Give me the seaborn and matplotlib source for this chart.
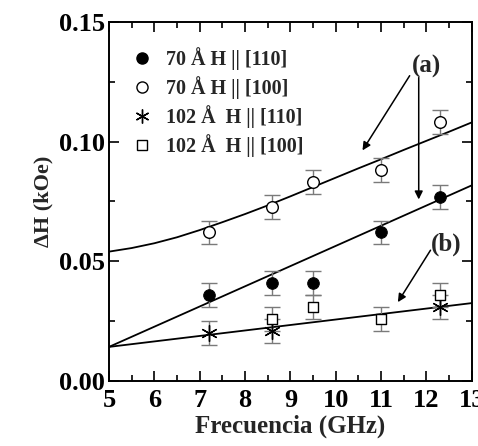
import matplotlib
matplotlib.use("Agg")
import matplotlib.pyplot as plt
import seaborn as sns
from matplotlib.lines import Line2D

# ---- data ----
freq = [7.2, 8.6, 9.5, 11.0, 12.3]
dh_70_110 = [0.036, 0.041, 0.041, 0.062, 0.077]
dh_70_100 = [0.062, 0.0725, 0.083, 0.088, 0.108]
freq_102_110 = [7.2, 8.6, 12.3]
dh_102_110 = [0.020, 0.021, 0.031]
freq_102_100 = [8.6, 9.5, 11.0, 12.3]
dh_102_100 = [0.026, 0.031, 0.026, 0.036]
err = 0.005

# fit curves
fit_a_upper_x = [5, 5.5, 6, 6.5, 7, 7.5, 8, 8.5, 9, 9.5, 10, 10.5, 11, 11.5, 12, 12.5, 13]
fit_a_upper_y = [0.0540, 0.0555, 0.0575, 0.0600, 0.0630, 0.0663, 0.0697, 0.0733, 0.0771,
                 0.0810, 0.0849, 0.0888, 0.0926, 0.0965, 0.1003, 0.1041, 0.1080]
fit_a_lower_x = [5, 13]
fit_a_lower_y = [0.0142, 0.0817]
fit_b_x = [5, 13]
fit_b_y = [0.0142, 0.0325]

labels = ["70 Å H || [110]", "70 Å H || [100]", "102 Å  H || [110]", "102 Å  H || [100]"]

sns.set_theme(style="ticks")
plt.rcParams['font.family'] = ['Liberation Serif', 'DejaVu Serif']
plt.rcParams['font.weight'] = 'bold'

fig = plt.figure(figsize=(4.78, 4.46), dpi=100)
ax = fig.add_axes([0.228, 0.146, 0.759, 0.805])

# fit lines
for xs, ys in [(fit_a_upper_x, fit_a_upper_y), (fit_a_lower_x, fit_a_lower_y), (fit_b_x, fit_b_y)]:
    sns.lineplot(x=xs, y=ys, ax=ax, color="black", lw=1.3, zorder=2)

asterisk = (6, 2, 0)
series = [
    (freq, dh_70_110, dict(marker='o', s=70, color='black', edgecolor='black')),
    (freq, dh_70_100, dict(marker='o', s=70, facecolor='white', edgecolor='black', linewidth=1.0)),
    (freq_102_110, dh_102_110, dict(marker=asterisk, s=130, color='black', linewidth=1.0)),
    (freq_102_100, dh_102_100, dict(marker='s', s=50, facecolor='white', edgecolor='black', linewidth=1.0)),
]
for xs, ys, kw in series:
    ax.errorbar(xs, ys, yerr=err, fmt='none', ecolor='#7a7a7a', elinewidth=1.0,
                capsize=6, capthick=1.0, zorder=3)
    sns.scatterplot(x=xs, y=ys, ax=ax, zorder=4, **kw)

ax.set_xlim(5, 13)
ax.set_ylim(0, 0.15)
ax.set_xticks([5, 6, 7, 8, 9, 10, 11, 12, 13])
ax.set_xticks([5.5 + i for i in range(8)], minor=True)
ax.set_yticks([0.0, 0.05, 0.10, 0.15])
ax.set_yticklabels(["0.00", "0.05", "0.10", "0.15"])
ax.set_yticks([0.025, 0.075, 0.125], minor=True)
ax.tick_params(which='both', direction='in', top=True, right=True, width=1.2, colors='black')
ax.tick_params(which='major', length=7, labelsize=19)
ax.tick_params(axis='x', which='major', pad=6)
ax.tick_params(axis='y', which='major', pad=3)
ax.tick_params(which='minor', length=4)
for lab in ax.get_xticklabels() + ax.get_yticklabels():
    lab.set_fontweight('bold')
for sp in ax.spines.values():
    sp.set_linewidth(1.4)
    sp.set_color('black')

ax.set_xlabel("Frecuencia (GHz)", fontsize=18, fontweight='bold', labelpad=2)
ax.set_ylabel("ΔH (kOe)", fontsize=16, fontweight='bold', labelpad=4)

handles = [
    Line2D([], [], marker='o', ls='none', color='black', markersize=8),
    Line2D([], [], marker='o', ls='none', markerfacecolor='white', markeredgecolor='black', markersize=8),
    Line2D([], [], marker=asterisk, ls='none', color='black', markersize=10),
    Line2D([], [], marker='s', ls='none', markerfacecolor='white', markeredgecolor='black', markersize=7),
]
ax.legend(handles, labels, loc='upper left', bbox_to_anchor=(0.035, 0.952), frameon=False,
          prop={'size': 14.5, 'weight': 'bold'}, handletextpad=0.6, labelspacing=0.3,
          handlelength=1.2, borderaxespad=0)

ax.text(12.0, 0.1313, "(a)", fontsize=18, fontweight='bold', ha='center', va='center')
ax.text(12.44, 0.0571, "(b)", fontsize=18, fontweight='bold', ha='center', va='center')
arrow = dict(arrowstyle='-|>', color='black', lw=1.1, mutation_scale=12, shrinkA=0, shrinkB=0)
ax.annotate("", xy=(10.59, 0.0963), xytext=(11.63, 0.1275), arrowprops=arrow)
ax.annotate("", xy=(11.83, 0.0758), xytext=(11.83, 0.1267), arrowprops=arrow)
ax.annotate("", xy=(11.37, 0.0329), xytext=(12.09, 0.0546), arrowprops=arrow)

fig.savefig("out.png", dpi=100)
